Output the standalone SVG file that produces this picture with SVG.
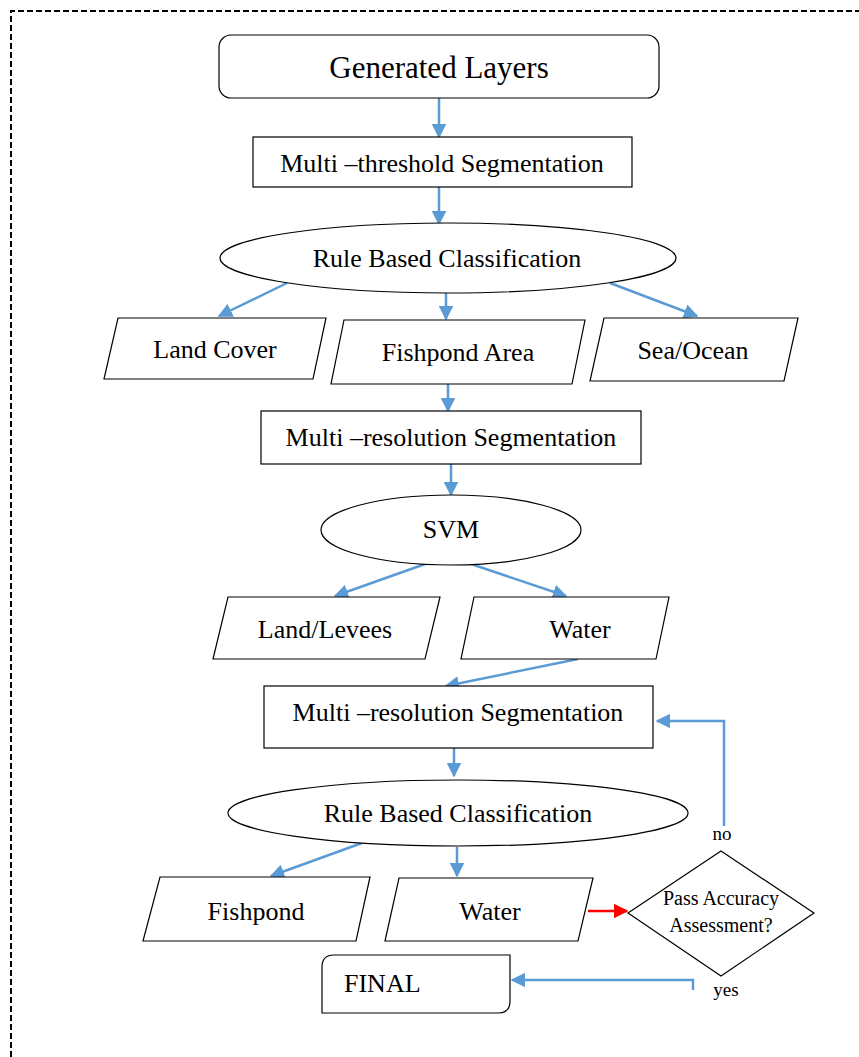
<svg xmlns="http://www.w3.org/2000/svg" width="859" height="1057" viewBox="0 0 859 1057">
<defs>
<marker id="ab" viewBox="0 0 10 10" refX="9" refY="5" markerWidth="5.8" markerHeight="5.8" markerUnits="strokeWidth" orient="auto"><path d="M0,0 L10,5 L0,10 z" fill="#5B9BD5"/></marker>
<marker id="ar" viewBox="0 0 10 10" refX="9" refY="5" markerWidth="5.8" markerHeight="5.8" markerUnits="strokeWidth" orient="auto"><path d="M0,0 L10,5 L0,10 z" fill="#FF0000"/></marker>
</defs>
<style>
.s{fill:#fff;stroke:#000;stroke-width:1.2}
.t{font-family:"Liberation Serif","Times New Roman",serif;font-size:26px;fill:#000;text-anchor:middle}
.c{fill:none;stroke:#5B9BD5;stroke-width:2.5;marker-end:url(#ab)}
.r{fill:none;stroke:#FF0000;stroke-width:2.5;marker-end:url(#ar)}
</style>
<rect width="859" height="1057" fill="#fff"/>
<path d="M11,1057 L11,11 L859,11" fill="none" stroke="#000" stroke-width="2" stroke-dasharray="6,3"/>

<g id="connectors">
<line class="c" x1="439" y1="98" x2="439" y2="137"/>
<line class="c" x1="439" y1="187" x2="439" y2="224"/>
<line class="c" x1="287" y1="283" x2="219" y2="316"/>
<line class="c" x1="446" y1="293" x2="446" y2="319"/>
<line class="c" x1="610" y1="283" x2="697" y2="316"/>
<line class="c" x1="448" y1="384" x2="448" y2="411"/>
<line class="c" x1="451" y1="464" x2="451" y2="495"/>
<line class="c" x1="428" y1="563" x2="335" y2="596"/>
<line class="c" x1="468" y1="563" x2="566" y2="596"/>
<line class="c" x1="578" y1="659" x2="446" y2="686"/>
<line class="c" x1="454" y1="748" x2="454" y2="776"/>
<line class="c" x1="362" y1="843" x2="271" y2="876"/>
<line class="c" x1="457" y1="847" x2="457" y2="876"/>
<line class="r" x1="588" y1="911" x2="627" y2="911"/>
<polyline class="c" points="724,826 724,721 657,721"/>
<polyline class="c" points="693,990 693,980 512,980"/>
</g>

<g id="generated-layers">
<rect class="s" x="219" y="35" width="440" height="63" rx="12"/>
<text class="t" x="439" y="78" style="font-size:31px">Generated Layers</text>
</g>
<g id="multi-threshold">
<rect class="s" x="253" y="137" width="379" height="50"/>
<text class="t" x="442" y="172">Multi –threshold Segmentation</text>
</g>
<g id="rule-based-1">
<ellipse class="s" cx="448" cy="258" rx="228" ry="35"/>
<text class="t" x="447" y="267">Rule Based Classification</text>
</g>
<g id="land-cover">
<polygon class="s" points="118,318 326,318 313,379 104,379"/>
<text class="t" x="215" y="358">Land Cover</text>
</g>
<g id="fishpond-area">
<polygon class="s" points="344,320 585,320 572,384 331,384"/>
<text class="t" x="458" y="361">Fishpond Area</text>
</g>
<g id="sea-ocean">
<polygon class="s" points="604,318 798,318 784,381 590,381"/>
<text class="t" x="693" y="359">Sea/Ocean</text>
</g>
<g id="multi-resolution-1">
<rect class="s" x="261" y="411" width="380" height="53"/>
<text class="t" x="451" y="446">Multi –resolution Segmentation</text>
</g>
<g id="svm">
<ellipse class="s" cx="451" cy="530" rx="130" ry="35"/>
<text class="t" x="451" y="538">SVM</text>
</g>
<g id="land-levees">
<polygon class="s" points="228,597 440,597 425,659 213,659"/>
<text class="t" x="325" y="638">Land/Levees</text>
</g>
<g id="water-1">
<polygon class="s" points="474,597 669,597 656,659 461,659"/>
<text class="t" x="580" y="638">Water</text>
</g>
<g id="multi-resolution-2">
<rect class="s" x="264" y="686" width="389" height="62"/>
<text class="t" x="458" y="721">Multi –resolution Segmentation</text>
</g>
<g id="rule-based-2">
<ellipse class="s" cx="458" cy="813" rx="230" ry="33"/>
<text class="t" x="458" y="822">Rule Based Classification</text>
</g>
<g id="fishpond">
<polygon class="s" points="160,877 370,877 356,941 143,941"/>
<text class="t" x="256" y="920">Fishpond</text>
</g>
<g id="water-2">
<polygon class="s" points="399,878 593,878 578,941 385,941"/>
<text class="t" x="490" y="920">Water</text>
</g>
<g id="accuracy">
<polygon class="s" points="721,851 814,913 721,976 628,913"/>
<text class="t" x="721" y="905" style="font-size:20px">Pass Accuracy</text>
<text class="t" x="721" y="932" style="font-size:20px">Assessment?</text>
</g>
<g id="final">
<path class="s" d="M334,955 L510,955 L510,1001 Q510,1013 498,1013 L322,1013 L322,967 Q322,955 334,955 z"/>
<text class="t" x="344" y="992" style="text-anchor:start">FINAL</text>
</g>
<g id="labels">
<text class="t" x="722" y="840" style="font-size:19px">no</text>
<text class="t" x="726" y="996" style="font-size:19px">yes</text>
</g>
</svg>
